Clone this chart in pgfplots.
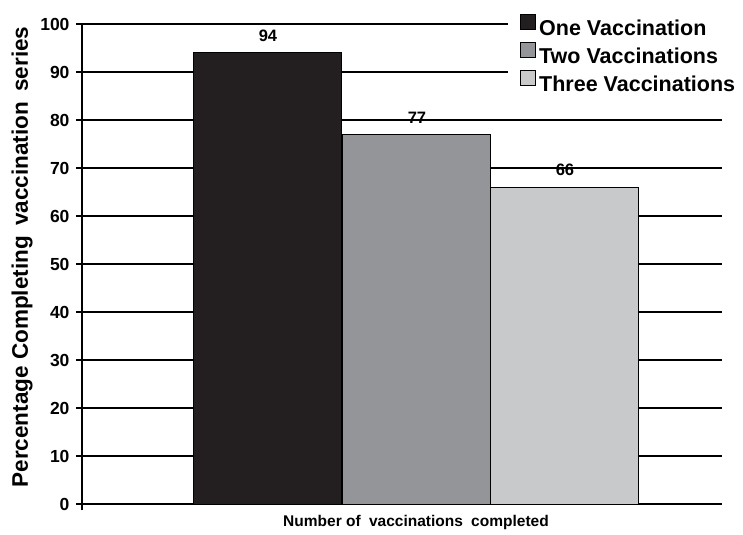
\documentclass[border=0pt]{standalone}
\usepackage{pgfplots}
\pgfplotsset{compat=1.18}
\usepackage{fontspec}
\setmainfont{Liberation Sans}
\definecolor{cone}{HTML}{231F20}
\definecolor{ctwo}{HTML}{939598}
\definecolor{cthree}{HTML}{C8C9CB}
\begin{document}
\begin{tikzpicture}
\path[use as bounding box] (-82bp,-31bp) rectangle (661bp,504bp);
\begin{axis}[
  at={(0,0)}, anchor=south west,
  scale only axis, width=640bp, height=480bp,
  xmin=0, xmax=640, ymin=0, ymax=100,
  axis x line=bottom, axis y line=left,
  axis line style={-, line width=1.2bp, black},
  xtick={0}, xticklabels={},
  ytick={0,10,...,100},
  yticklabels={0,10,20,30,40,50,60,70,80,90,100},
  tick align=outside, major tick length=6bp,
  tick style={black, line width=1.2bp},
  ymajorgrids, grid style={black, line width=1.2bp},
  yticklabel style={font=\fontsize{17.5bp}{20bp}\selectfont\bfseries, xshift=-3bp},
  ylabel={Percentage Completing\hspace{4bp} vaccination\hspace{4bp} series},
  ylabel style={font=\fontsize{22.5bp}{26bp}\selectfont\bfseries, at={(-60bp,247bp)}, anchor=center},
  xlabel={Number of\hspace{4bp} vaccinations\hspace{4bp} completed},
  xlabel style={font=\fontsize{15.5bp}{18bp}\selectfont\bfseries, at={(334bp,-18bp)}, anchor=center},
  ybar, bar width=148, bar shift=0pt,
  point meta=explicit symbolic,
  nodes near coords={\pgfplotspointmeta},
  every node near coord/.append style={font=\fontsize{16.5bp}{19bp}\selectfont\bfseries, anchor=center, yshift=17bp},
  legend style={at={(426bp,492bp)}, anchor=north west, draw=none, fill=white,
    font=\fontsize{21.5bp}{24bp}\selectfont\bfseries, row sep=3bp,
    inner xsep=12bp, inner ysep=2bp,
    nodes={text height=15bp, text depth=4bp, inner ysep=0pt, inner xsep=3bp}},
  legend cell align=left,
  legend image code/.code={\draw[#1, line width=1bp, draw=black] (0bp,0bp) rectangle (15bp,15bp);},
]
\addplot[fill=cone, draw=black, line width=1bp] coordinates {(186,94) [94]};
\addplot[fill=ctwo, draw=black, line width=1bp] coordinates {(335,77) [77]};
\addplot[fill=cthree, draw=black, line width=1bp] coordinates {(483,66) [66]};
\legend{One Vaccination, Two Vaccinations, Three Vaccinations}
\end{axis}
\end{tikzpicture}
\end{document}
